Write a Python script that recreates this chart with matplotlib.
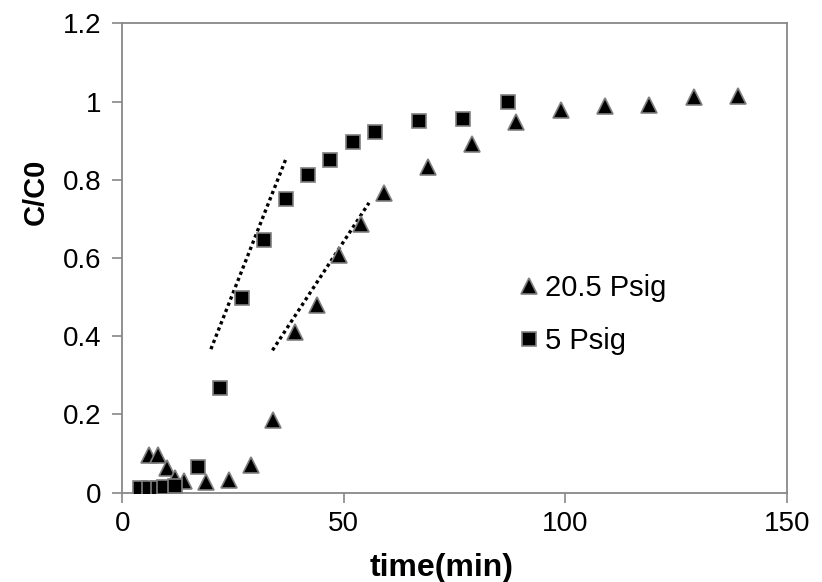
import matplotlib
matplotlib.use("Agg")
import matplotlib.pyplot as plt
from matplotlib.ticker import FixedLocator, FixedFormatter

plt.rcParams['font.family'] = ['Liberation Sans', 'DejaVu Sans']

# 20.5 Psig series (triangles)
t_205 = [6, 8, 10, 12, 14, 19, 24, 29, 34, 39, 44, 49, 54, 59, 69, 79, 89, 99, 109, 119, 129, 139]
c_205 = [0.097, 0.096, 0.063, 0.038, 0.029, 0.027, 0.033, 0.071, 0.185, 0.411, 0.480, 0.608,
         0.687, 0.766, 0.832, 0.892, 0.948, 0.978, 0.989, 0.992, 1.012, 1.015]

# 5 Psig series (squares)
t_5 = [4, 6, 8, 9.5, 12, 17, 22, 27, 32, 37, 42, 47, 52, 57, 67, 77, 87]
c_5 = [0.013, 0.013, 0.013, 0.015, 0.018, 0.065, 0.267, 0.497, 0.646, 0.750, 0.811,
       0.850, 0.897, 0.923, 0.949, 0.956, 1.000]

# dotted trend lines (start/end)
trend_5_t = [20.0, 37.1]
trend_5_c = [0.367, 0.858]
trend_205_t = [33.9, 55.7]
trend_205_c = [0.364, 0.741]

x_ticks = [0, 50, 100, 150]
y_ticks = [0, 0.2, 0.4, 0.6, 0.8, 1, 1.2]
y_tick_labels = ['0', '0.2', '0.4', '0.6', '0.8', '1', '1.2']

fig = plt.figure(figsize=(8.22, 5.82), dpi=100)
ax = fig.add_axes([0.1488, 0.1534, 0.8082, 0.8066])

edge = '#7f7f7f'
ax.plot(t_205, c_205, linestyle='none', marker='^', markersize=12, markerfacecolor='black',
        markeredgecolor=edge, markeredgewidth=1.2, label='20.5 Psig', zorder=3)
ax.plot(t_5, c_5, linestyle='none', marker='s', markersize=10.5, markerfacecolor='black',
        markeredgecolor=edge, markeredgewidth=1.2, label='5 Psig', zorder=3)

for tt, cc in [(trend_5_t, trend_5_c), (trend_205_t, trend_205_c)]:
    ax.plot(tt, cc, color='black', linewidth=2.4, linestyle=(0, (1, 1)),
            dash_capstyle='butt', zorder=2)

ax.set_xlim(0, 150)
ax.set_ylim(0, 1.2)
ax.xaxis.set_major_locator(FixedLocator(x_ticks))
ax.yaxis.set_major_locator(FixedLocator(y_ticks))
ax.yaxis.set_major_formatter(FixedFormatter(y_tick_labels))

for s in ax.spines.values():
    s.set_color('#888888')
    s.set_linewidth(1.3)
ax.tick_params(axis='both', which='major', direction='out', length=7, width=1.2,
               color='#888888', labelsize=20, labelcolor='black')
ax.tick_params(axis='x', pad=6)
ax.tick_params(axis='y', pad=8)
ax.tick_params(top=False, right=False)

ax.set_xlabel('time(min)', fontsize=23, fontweight='bold')
ax.xaxis.set_label_coords(0.48, -0.16)
ax.xaxis.label.set_va('center')
ax.set_ylabel('C/C0', fontsize=21, fontweight='bold')
ax.yaxis.set_label_coords(-0.131, 0.64)
ax.yaxis.label.set_va('center')

ax.legend(loc='center left', bbox_to_anchor=(0.571, 0.38), frameon=False, fontsize=21,
          handletextpad=0.1, labelspacing=0.85, borderpad=0, handlelength=0.9,
          markerscale=0.95)

fig.savefig('out.png', dpi=100)
